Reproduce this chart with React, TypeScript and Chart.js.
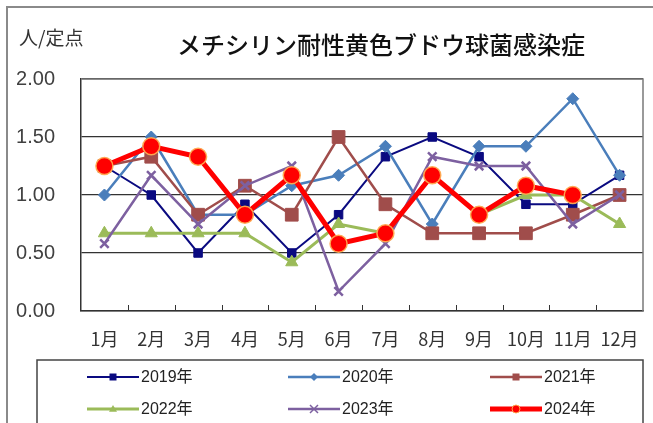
import React, { useEffect, useRef } from 'react';
import { Chart, registerables } from 'chart.js';

Chart.register(...registerables);

const months = ['1月', '2月', '3月', '4月', '5月', '6月', '7月', '8月', '9月', '10月', '11月', '12月'];
const seriesNames = ['2019年', '2020年', '2021年', '2022年', '2023年', '2024年'];
const y2019 = [1.25, 1.0, 0.5, 0.92, 0.5, 0.83, 1.33, 1.5, 1.33, 0.92, 0.92, 1.17];
const y2020 = [1.0, 1.5, 0.83, 0.83, 1.08, 1.17, 1.42, 0.75, 1.42, 1.42, 1.83, 1.17];
const y2021 = [1.25, 1.33, 0.83, 1.08, 0.83, 1.5, 0.92, 0.67, 0.67, 0.67, 0.83, 1.0];
const y2022 = [0.67, 0.67, 0.67, 0.67, 0.42, 0.75, 0.67, 1.17, 0.83, 1.0, 1.0, 0.75];
const y2023 = [0.58, 1.17, 0.75, 1.08, 1.25, 0.17, 0.58, 1.33, 1.25, 1.25, 0.75, 1.0];
const y2024 = [1.25, 1.42, 1.33, 0.83, 1.17, 0.58, 0.67, 1.17, 0.83, 1.08, 1.0, null];
const yMin = 0;
const yMax = 2;
const yStep = 0.5;
const titleText = 'メチシリン耐性黄色ブドウ球菌感染症';
const unitText = '人/定点';

const JP = '"Noto Sans CJK JP", "Liberation Sans", sans-serif';
const NUM = '"Liberation Sans", "Noto Sans CJK JP", sans-serif';

type Style = {
  color: string;
  width: number;
  point: string;
  radius: number;
  fill: string;
  border: string;
  borderWidth: number;
};

const styles: Style[] = [
  { color: '#0a0a80', width: 2, point: 'rect', radius: 6, fill: '#0a0a80', border: '#0a0a80', borderWidth: 1 },
  { color: '#4a7ebb', width: 2.5, point: 'rectRot', radius: 6, fill: '#4a7ebb', border: '#4a7ebb', borderWidth: 1 },
  { color: '#a04d4b', width: 2.5, point: 'rect', radius: 9, fill: '#a04d4b', border: '#a04d4b', borderWidth: 1 },
  { color: '#9bbb59', width: 3, point: 'triangle', radius: 7, fill: '#9bbb59', border: '#9bbb59', borderWidth: 1 },
  { color: '#7d60a0', width: 2.5, point: 'crossRot', radius: 6, fill: '#7d60a0', border: '#7d60a0', borderWidth: 2.5 },
  { color: '#ff0000', width: 5, point: 'circle', radius: 8.5, fill: '#ff0000', border: 'rgba(255,170,80,0.95)', borderWidth: 1.5 },
];

function drawMarker(ctx: CanvasRenderingContext2D, s: Style, x: number, y: number, r: number) {
  ctx.save();
  ctx.fillStyle = s.fill;
  ctx.strokeStyle = s.border;
  ctx.lineWidth = s.borderWidth;
  ctx.beginPath();
  if (s.point === 'rect') {
    ctx.rect(x - r, y - r, 2 * r, 2 * r);
    ctx.fill();
  } else if (s.point === 'rectRot') {
    ctx.moveTo(x, y - r);
    ctx.lineTo(x + r, y);
    ctx.lineTo(x, y + r);
    ctx.lineTo(x - r, y);
    ctx.closePath();
    ctx.fill();
  } else if (s.point === 'triangle') {
    ctx.moveTo(x, y - r);
    ctx.lineTo(x + r, y + r * 0.7);
    ctx.lineTo(x - r, y + r * 0.7);
    ctx.closePath();
    ctx.fill();
  } else if (s.point === 'crossRot') {
    ctx.lineWidth = 1.5;
    ctx.moveTo(x - r, y - r);
    ctx.lineTo(x + r, y + r);
    ctx.moveTo(x + r, y - r);
    ctx.lineTo(x - r, y + r);
    ctx.stroke();
  } else {
    ctx.arc(x, y, r, 0, Math.PI * 2);
    ctx.fill();
    ctx.stroke();
  }
  ctx.restore();
}

const decorPlugin = {
  id: 'decor',
  beforeDraw(chart: any) {
    const ctx: CanvasRenderingContext2D = chart.ctx;
    ctx.save();
    ctx.fillStyle = '#ffffff';
    ctx.fillRect(0, 0, chart.width, chart.height);
    ctx.strokeStyle = '#8a8a8a';
    ctx.lineWidth = 2;
    ctx.strokeRect(7, 7, chart.width + 20, chart.height + 20);
    ctx.restore();
  },
  beforeDatasetsDraw(chart: any) {
    const ctx: CanvasRenderingContext2D = chart.ctx;
    const a = chart.chartArea;
    const xs = chart.scales.x;
    ctx.save();
    ctx.strokeStyle = '#7a7a7a';
    ctx.lineWidth = 1.5;
    ctx.beginPath();
    ctx.moveTo(a.left, a.top);
    ctx.lineTo(a.right, a.top);
    ctx.lineTo(a.right, a.bottom);
    ctx.stroke();
    ctx.strokeStyle = '#333';
    ctx.lineWidth = 1;
    ctx.beginPath();
    for (let i = 0; i < months.length - 1; i++) {
      const bx = Math.round((xs.getPixelForValue(i) + xs.getPixelForValue(i + 1)) / 2) + 0.5;
      ctx.moveTo(bx, a.bottom);
      ctx.lineTo(bx, a.bottom - 6);
    }
    ctx.stroke();
    ctx.restore();
  },
  afterDraw(chart: any) {
    const ctx: CanvasRenderingContext2D = chart.ctx;
    const a = chart.chartArea;
    ctx.save();
    ctx.fillStyle = '#111';
    ctx.textBaseline = 'middle';
    ctx.textAlign = 'center';
    ctx.font = `500 24px ${JP}`;
    ctx.fillText(titleText, 381, 45);
    ctx.textAlign = 'left';
    ctx.font = `19px ${JP}`;
    ctx.fillStyle = '#333';
    ctx.fillText(unitText, 19, 38);

    // legend box
    ctx.strokeStyle = '#444';
    ctx.lineWidth = 1.5;
    ctx.strokeRect(37, 360, a.right - 37, 120);

    const colX = [87, 288, 490];
    const rowY = [377, 409];
    chart.data.datasets.forEach((ds: any, i: number) => {
      const s = styles[i];
      const x0 = colX[i % 3];
      const y0 = rowY[Math.floor(i / 3)];
      const len = 52;
      ctx.strokeStyle = s.color;
      ctx.lineWidth = s.width;
      ctx.beginPath();
      ctx.moveTo(x0, y0);
      ctx.lineTo(x0 + len, y0);
      ctx.stroke();
      const small: Style = { ...s, borderWidth: 1 };
      drawMarker(ctx, small, x0 + len / 2, y0, s.point === 'rect' ? 3.5 : 4);
      ctx.fillStyle = '#222';
      ctx.font = `16px ${NUM}`;
      ctx.textAlign = 'left';
      ctx.fillText(ds.label, x0 + len + 2, y0 + 1);
    });
    ctx.restore();
  },
};

export default function App() {
  const ref = useRef<HTMLCanvasElement | null>(null);

  useEffect(() => {
    document.body.style.margin = '0';
    const canvas = ref.current;
    if (!canvas) return;
    const series = [y2019, y2020, y2021, y2022, y2023, y2024];
    const chart = new Chart(canvas, {
      type: 'line',
      data: {
        labels: months,
        datasets: series.map((d, i) => {
          const s = styles[i];
          return {
            label: seriesNames[i],
            data: d,
            borderColor: s.color,
            borderWidth: s.width,
            backgroundColor: s.fill,
            pointStyle: s.point as any,
            pointRadius: s.radius,
            pointBackgroundColor: s.fill,
            pointBorderColor: s.border,
            pointBorderWidth: s.borderWidth,
            tension: 0,
            fill: false,
            spanGaps: false,
            order: series.length - i,
          };
        }),
      },
      options: {
        responsive: false,
        animation: false,
        devicePixelRatio: 1,
        layout: { padding: { top: 79, right: 10, bottom: 52, left: 0 } },
        plugins: {
          legend: { display: false },
          title: { display: false },
          tooltip: { enabled: false },
        },
        scales: {
          x: {
            type: 'category',
            offset: true,
            grid: { display: false },
            border: { display: true, color: '#333', width: 1.5 },
            ticks: {
              font: { family: JP, size: 18 },
              color: '#333',
              padding: 9,
              maxRotation: 0,
              autoSkip: false,
            },
            afterFit: (s: any) => {
              s.height = 60;
            },
          },
          y: {
            min: yMin,
            max: yMax,
            ticks: {
              stepSize: yStep,
              callback: (v: any) => Number(v).toFixed(2),
              padding: 26,
              font: { family: NUM, size: 20 },
              color: '#404040',
            },
            grid: { color: '#333', lineWidth: 1.2, drawTicks: false },
            border: { display: true, color: '#333', width: 1.5 },
            afterFit: (s: any) => {
              s.width = 81;
            },
          },
        },
      },
      plugins: [decorPlugin],
    });
    return () => chart.destroy();
  }, []);

  return (
    <div style={{ position: 'relative', width: 653, height: 423 }}>
      <canvas ref={ref} width={653} height={423} style={{ width: 653, height: 423, display: 'block' }} />
    </div>
  );
}
